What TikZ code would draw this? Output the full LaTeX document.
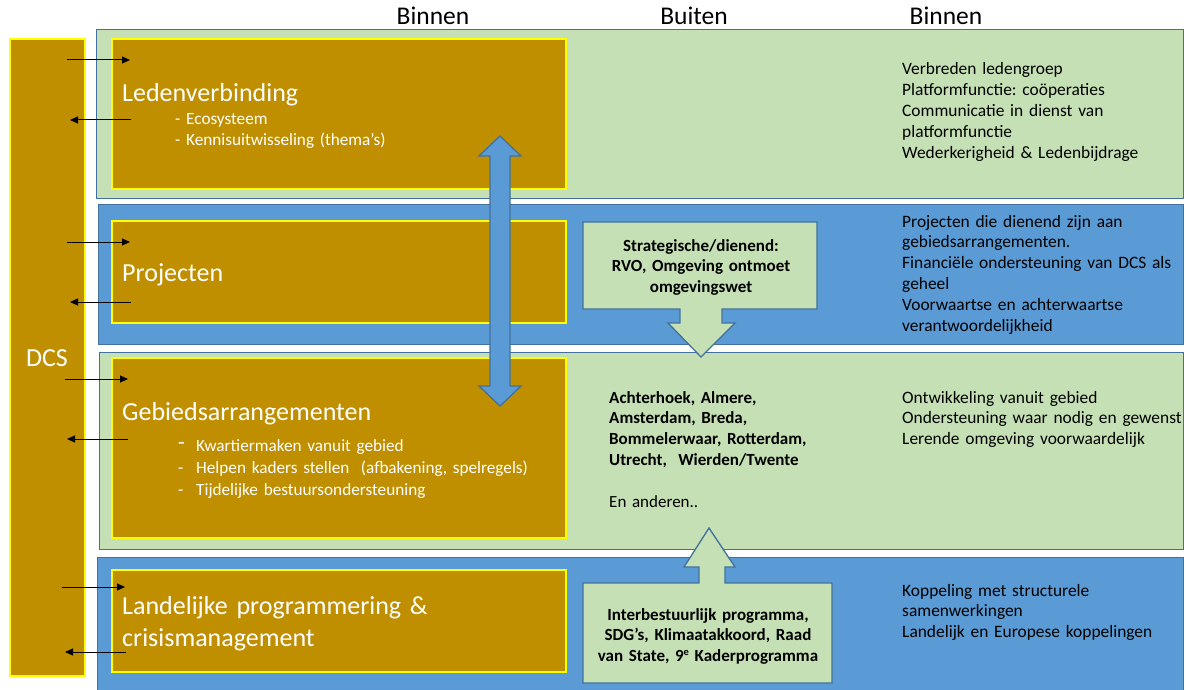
\documentclass[tikz,border=0pt]{standalone}
\usepackage{fontspec}
\setmainfont{Carlito}
\usetikzlibrary{arrows.meta}
\definecolor{cbrown}{HTML}{BF8F00}
\definecolor{cgreen}{HTML}{C5E0B4}
\definecolor{cblue}{HTML}{5B9BD5}
\definecolor{cborder}{HTML}{41719C}
\definecolor{cyel}{HTML}{FFFF00}
\newcommand\myfs[2]{\fontsize{#1}{#2}\selectfont}
\begin{document}
\frenchspacing
\begin{tikzpicture}[x=1pt,y=-1pt,
  panelG/.style={fill=cgreen,draw=cborder,line width=1.4pt,inner sep=0pt,anchor=north west},
  panelB/.style={fill=cblue,draw=cborder,line width=1.4pt,inner sep=0pt,anchor=north west},
  brownbox/.style={fill=cbrown,draw=cyel,line width=1.6pt,inner sep=0pt,anchor=north west},
  callout/.style={fill=cgreen,draw=cborder,line width=1.3pt,line join=miter},
  bigarrow/.style={fill=cblue,draw=cborder,line width=1.3pt},
  smallarrow/.style={-{Triangle[length=8pt,width=7pt]},line width=1pt,black},
  hdr/.style={font=\myfs{25.5}{30},inner sep=0pt,anchor=base},
  title/.style={font=\myfs{26}{32},text=white,inner sep=0pt,anchor=base west,text width=400pt,align=left},
  wsmall/.style={font=\myfs{17.2}{20.7},text=white,inner sep=0pt,anchor=base west,text width=380pt,align=left},
  rtext/.style={font=\myfs{17.4}{20.8},inner sep=0pt,anchor=base west,text width=280pt,align=left},
  btext/.style={font=\bfseries\myfs{17}{20.6},inner sep=0pt,anchor=base,text width=260pt,align=center},
  blist/.style={font=\bfseries\myfs{17}{20.8},inner sep=0pt,anchor=base west,text width=270pt,align=left}
]
\useasboundingbox (0,0) rectangle (1186,690);
\clip (0,0) rectangle (1186,690);

% headers
\node[hdr] (h1) at (433,25) {Binnen};
\node[hdr] (h2) at (694,25) {Buiten};
\node[hdr] (h3) at (946,25) {Binnen};

% DCS bar
\node[brownbox,minimum width=75pt,minimum height=637pt] (dcs) at (9,38) {};
\node[font=\myfs{26}{30},text=white,inner sep=0pt] (dcslbl) at (47,358) {DCS};

% panels
\node[panelG,minimum width=1087pt,minimum height=169pt] (p1) at (96,29) {};
\node[panelB,minimum width=1085pt,minimum height=140pt] (p2) at (98,204) {};
\node[panelG,minimum width=1084pt,minimum height=197pt] (p3) at (99,352) {};
\node[panelB,minimum width=1086pt,minimum height=150pt] (p4) at (97,557) {};

% brown boxes
\node[brownbox,minimum width=454pt,minimum height=150pt] (b1) at (111,38) {};
\node[brownbox,minimum width=454pt,minimum height=102pt] (b2) at (111,220) {};
\node[brownbox,minimum width=454pt,minimum height=180pt] (b3) at (111,357) {};
\node[brownbox,minimum width=454pt,minimum height=102pt] (b4) at (111,569) {};

% left titles
\node[title] (t1) at (122,102) {Ledenverbinding};
\node[wsmall] (t1b) at (175,125) {- Ecosysteem\\- Kennisuitwisseling (thema’s)};
\node[title] (t2) at (122,281) {Projecten};
\node[title] (t3) at (122,420) {Gebiedsarrangementen};
\node[wsmall,font=\myfs{17.2}{22}] (t3b) at (178,451) {\makebox[18pt][l]{\raisebox{2pt}{\myfs{22}{22}-}}Kwartiermaken vanuit gebied\\
\makebox[18pt][l]{-}Helpen kaders stellen\ \ (afbakening, spelregels)\\
\makebox[18pt][l]{-}Tijdelijke bestuursondersteuning};
\node[title,font=\myfs{26}{32}] (t4) at (122,614) {Landelijke programmering \&\\crisismanagement};

% small arrows
\coordinate (a1s) at (67,60);  \coordinate (a1e) at (130,60);
\coordinate (r1s) at (131,120); \coordinate (r1e) at (70,120);
\coordinate (a2s) at (67,242); \coordinate (a2e) at (130,242);
\coordinate (r2s) at (131,302); \coordinate (r2e) at (70,302);
\coordinate (a3s) at (65,379); \coordinate (a3e) at (128,379);
\coordinate (r3s) at (128,439); \coordinate (r3e) at (67,439);
\coordinate (a4s) at (62,587); \coordinate (a4e) at (125,587);
\coordinate (r4s) at (126,652); \coordinate (r4e) at (65,652);
\foreach \n in {1,2,3,4}{
  \draw[smallarrow] (a\n s) -- (a\n e);
  \draw[smallarrow] (r\n s) -- (r\n e);
}

% vertical double arrow
\draw[bigarrow] (500,136) -- (521,156) -- (510,156) -- (510,386) -- (521,386) -- (500,406)
  -- (479,386) -- (490,386) -- (490,156) -- (479,156) -- cycle;

% Strategische callout (down)
\draw[callout] (583,222) -- (817,222) -- (817,309) -- (722,309) -- (722,323) -- (735,323)
  -- (701,357) -- (668,323) -- (680,323) -- (680,309) -- (583,309) -- cycle;
\node[btext] (c1) at (701,251) {Strategische/dienend:\\RVO, Omgeving ontmoet\\omgevingswet};

% Interbestuurlijk callout (up)
\draw[callout] (583,583) -- (699,583) -- (699,567) -- (684,567) -- (709,528) -- (735,567)
  -- (725,567) -- (725,583) -- (832,583) -- (832,683) -- (583,683) -- cycle;
\node[btext] (c2) at (708,620) {Interbestuurlijk programma,\\SDG’s, Klimaatakkoord, Raad\\van State, 9\raisebox{5.5pt}{\myfs{10.5}{10.5}e} Kaderprogramma};

% middle list row 3
\node[blist] (m3) at (609,403) {Achterhoek, Almere,\\Amsterdam, Breda,\\Bommelerwaar, Rotterdam,\\Utrecht,\ \ Wierden/Twente};
\node[rtext,font=\myfs{17}{20.8}] (m3b) at (609,507) {En anderen..};

% right texts
\node[rtext] (r1) at (902,75) {Verbreden ledengroep\\Platformfunctie: coöperaties\\Communicatie in dienst van\\platformfunctie\\Wederkerigheid \& Ledenbijdrage};
\node[rtext] (r2) at (902,227) {Projecten die dienend zijn aan\\gebiedsarrangementen.\\Financiële ondersteuning van DCS als\\geheel\\Voorwaartse en achterwaartse\\verantwoordelijkheid};
\node[rtext] (r3) at (902,403) {Ontwikkeling vanuit gebied\\Ondersteuning waar nodig en gewenst\\Lerende omgeving voorwaardelijk};
\node[rtext] (r4) at (902,596) {Koppeling met structurele\\samenwerkingen\\Landelijk en Europese koppelingen};
\end{tikzpicture}
\end{document}
